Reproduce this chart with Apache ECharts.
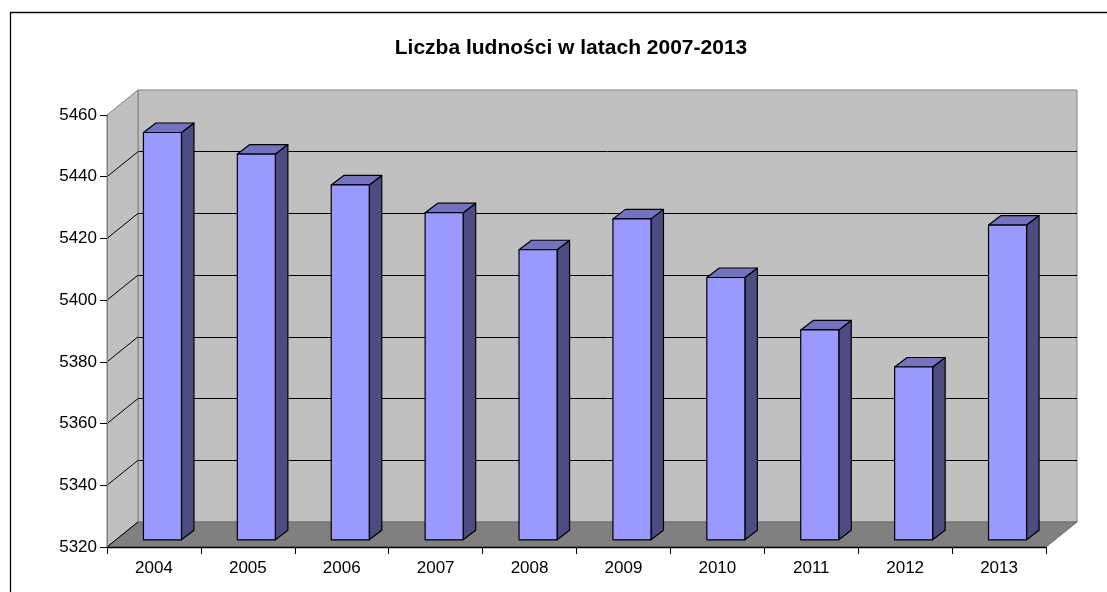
<!DOCTYPE html>
<html lang="pl">
<head>
<meta charset="UTF-8">
<title>Liczba ludności</title>
<style>
  html, body { margin: 0; padding: 0; background: #fff; }
  #main { width: 1107px; height: 592px; }
</style>
</head>
<body>
<div id="main"></div>
<script src="https://cdn.jsdelivr.net/npm/echarts@6/dist/echarts.min.js"></script>
<script>
// dane
var years = ['2004', '2005', '2006', '2007', '2008', '2009', '2010', '2011', '2012', '2013'];
var population = [5452, 5445, 5435, 5426, 5414, 5424, 5405, 5388, 5376, 5422];
var yTicks = [5320, 5340, 5360, 5380, 5400, 5420, 5440, 5460];

var yMin = yTicks[0], yMax = yTicks[yTicks.length - 1];
var FONT = '"Liberation Sans", Arial, sans-serif';

// przesuniecie "glebi" sciany tylnej wzgledem przedniej
var DX = 31, DY = -25;
// slupek: przesuniecie przedniej scianki i glebokosc
var BOX = 8.5, BOY = -7.2, BDX = 12.5, BDY = -9.5;

var myChart = echarts.init(document.getElementById('main'));

function renderWalls(params, api) {
  var cs = params.coordSys;
  var L = cs.x, T = cs.y, R = cs.x + cs.width, B = cs.y + cs.height;
  var children = [];
  // lewa sciana
  children.push({
    type: 'polygon',
    shape: { points: [[L, T], [L + DX, T + DY], [L + DX, B + DY], [L, B]] },
    style: { fill: '#c0c0c0', stroke: '#808080', lineWidth: 1 }
  });
  // podloga
  children.push({
    type: 'polygon',
    shape: { points: [[L, B], [R, B], [R + DX, B + DY], [L + DX, B + DY]] },
    style: { fill: '#808080', stroke: '#6e6e6e', lineWidth: 1 }
  });
  // linie siatki na lewej scianie
  for (var i = 0; i < yTicks.length - 1; i++) {
    var y = api.coord([0, yTicks[i]])[1];
    children.push({
      type: 'line',
      shape: { x1: L, y1: y, x2: L + DX, y2: y + DY },
      style: { stroke: '#000', lineWidth: 1 }
    });
  }
  return { type: 'group', children: children };
}

function renderBar(params, api) {
  var top = api.coord([api.value(0), api.value(1)]);
  var bottom = api.coord([api.value(0), yMin]);
  var w = api.size([1, 0])[0] * 0.405;
  var x0 = top[0] - w / 2 + BOX, x1 = x0 + w;
  var yt = top[1] + BOY, yb = bottom[1] + BOY;
  var line = { stroke: '#000', lineWidth: 1.2, lineJoin: 'round' };
  return {
    type: 'group',
    children: [
      {
        type: 'polygon',
        shape: { points: [[x1, yt], [x1 + BDX, yt + BDY], [x1 + BDX, yb + BDY], [x1, yb]] },
        style: Object.assign({ fill: '#4c4c80' }, line)
      },
      {
        type: 'polygon',
        shape: { points: [[x0, yt], [x0 + BDX, yt + BDY], [x1 + BDX, yt + BDY], [x1, yt]] },
        style: Object.assign({ fill: '#7373bf' }, line)
      },
      {
        type: 'rect',
        shape: { x: x0, y: yt, width: w, height: yb - yt },
        style: Object.assign({ fill: '#9999ff' }, line)
      }
    ]
  };
}

var option = {
  backgroundColor: '#fff',
  animation: false,
  title: {
    text: 'Liczba ludności w latach 2007-2013',
    left: 566,
    top: 33,
    textAlign: 'center',
    textStyle: { fontFamily: FONT, fontSize: 21, fontWeight: 'bold', color: '#000' }
  },
  graphic: [
    { type: 'line', shape: { x1: 10, y1: 12.5, x2: 1107, y2: 12.5 }, style: { stroke: '#000', lineWidth: 1.3 } },
    { type: 'line', shape: { x1: 10.5, y1: 12, x2: 10.5, y2: 592 }, style: { stroke: '#000', lineWidth: 1.3 } }
  ],
  grid: [
    { left: 107, right: 61, top: 115, bottom: 45 },
    { left: 138, right: 30, top: 90, bottom: 70, show: true, backgroundColor: '#c0c0c0', borderColor: '#808080', borderWidth: 1 }
  ],
  xAxis: [
    {
      type: 'category', gridIndex: 0, data: years, z: 5,
      axisLine: { lineStyle: { color: '#000', width: 1.3 } },
      axisTick: { show: true, length: 7, lineStyle: { color: '#000' } },
      axisLabel: { color: '#000', fontFamily: FONT, fontSize: 17, margin: 13 },
      splitLine: { show: false }
    },
    {
      type: 'category', gridIndex: 1, data: years,
      axisLine: { show: false }, axisTick: { show: false }, axisLabel: { show: false },
      splitLine: { show: false }
    }
  ],
  yAxis: [
    {
      type: 'value', gridIndex: 0, min: yMin, max: yMax, interval: 20, z: 5,
      axisLine: { show: true, lineStyle: { color: '#808080' } },
      axisTick: { show: true, length: 7, lineStyle: { color: '#000' } },
      axisLabel: {
        color: '#000', fontFamily: FONT, fontSize: 17, margin: 10,
        formatter: function (v) { return String(v); }
      },
      splitLine: { show: false }
    },
    {
      type: 'value', gridIndex: 1, min: yMin, max: yMax, interval: 20,
      axisLine: { show: false }, axisTick: { show: false }, axisLabel: { show: false },
      splitLine: { show: true, showMinLine: false, showMaxLine: false, lineStyle: { color: '#000', width: 1 } }
    }
  ],
  series: [
    {
      type: 'custom',
      name: 'sciany',
      xAxisIndex: 0, yAxisIndex: 0,
      renderItem: renderWalls,
      data: [[0, yMin]],
      silent: true,
      z: 1
    },
    {
      type: 'custom',
      name: 'Ludność',
      xAxisIndex: 0, yAxisIndex: 0,
      renderItem: renderBar,
      encode: { x: 0, y: 1 },
      data: years.map(function (y, i) { return [i, population[i]]; }),
      z: 3
    }
  ]
};

myChart.setOption(option);
</script>
</body>
</html>
